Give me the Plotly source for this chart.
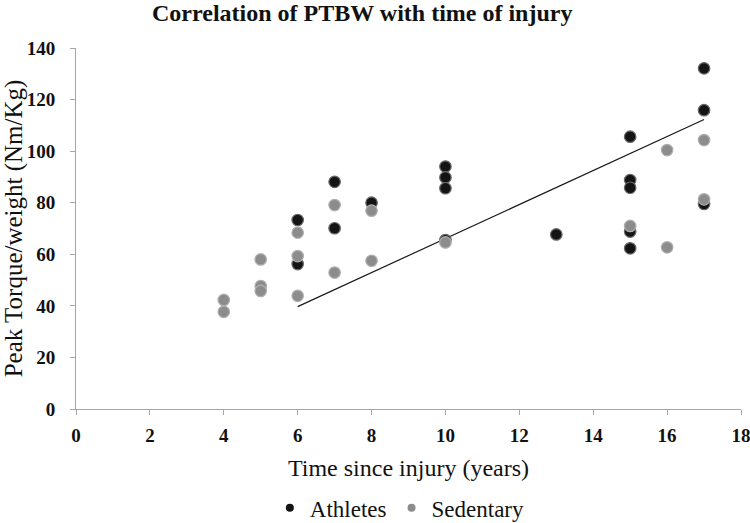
import plotly.graph_objects as go

ath_x = [6, 6, 7, 7, 8, 10, 10, 10, 10, 13, 15, 15, 15, 15, 15, 17, 17, 17]
ath_y = [73.3, 56.2, 88.1, 70.1, 80.0, 94.0, 89.8, 85.6, 65.5, 67.7, 105.6, 88.8, 85.8, 68.8, 62.3, 132.1, 115.9, 79.5]

sed_x = [4, 4, 5, 5, 5, 6, 6, 6, 7, 7, 8, 8, 10, 15, 16, 16, 17, 17]
sed_y = [42.3, 37.7, 58.0, 47.7, 45.8, 68.4, 59.3, 43.9, 79.1, 52.9, 76.9, 57.5, 64.6, 71.0, 100.4, 62.7, 104.3, 81.3]

trend_x = [6, 17]
trend_y = [39.7, 112.3]

x_ticks = [0, 2, 4, 6, 8, 10, 12, 14, 16, 18]
y_ticks = [0, 20, 40, 60, 80, 100, 120, 140]

FONT = "Liberation Serif"
ATH_COLOR = "#141414"
SED_COLOR = "#8c8c8c"

fig = go.Figure()
fig.add_trace(go.Scatter(x=trend_x, y=trend_y, mode="lines",
                         line=dict(color="#1a1a1a", width=1.2),
                         showlegend=False, hoverinfo="skip"))
fig.add_trace(go.Scatter(x=ath_x, y=ath_y, mode="markers", name="Athletes",
                         showlegend=False,
                         marker=dict(size=11.5, color=ATH_COLOR,
                                     line=dict(color="#6a6a6a", width=1.2))))
fig.add_trace(go.Scatter(x=sed_x, y=sed_y, mode="markers", name="Sedentary",
                         showlegend=False,
                         marker=dict(size=11.5, color=SED_COLOR,
                                     line=dict(color="#b0b0b0", width=1.2))))
# legend entries (small symbols like the reference)
fig.add_trace(go.Scatter(x=[None], y=[None], mode="markers", name="Athletes",
                         marker=dict(size=8, color=ATH_COLOR)))
fig.add_trace(go.Scatter(x=[None], y=[None], mode="markers", name="Sedentary",
                         marker=dict(size=8, color=SED_COLOR)))

fig.update_layout(
    width=750, height=523,
    margin=dict(l=76, r=9, t=48, b=114),
    paper_bgcolor="white", plot_bgcolor="white",
    font=dict(family=FONT, color="#1a1a1a"),
    title=dict(text="<b>Correlation of PTBW with time of injury</b>",
               x=0.483, xanchor="center", y=0.976, yanchor="middle",
               font=dict(size=24, family=FONT, color="#111")),
    xaxis=dict(range=[0, 18], tickvals=x_ticks, ticktext=[f"<b>{v}</b>" for v in x_ticks],
               showgrid=False, zeroline=False, showline=True, linecolor="#a6a6a6",
               linewidth=1, ticks="outside", ticklen=5, tickcolor="#a6a6a6",
               automargin=False, ticklabelstandoff=4, ticklabeloverflow="allow",
               tickfont=dict(size=19, family=FONT, color="#111"),
               title=dict(text="Time since injury (years)", standoff=14,
                          font=dict(size=24, family=FONT, color="#111"))),
    yaxis=dict(range=[0, 140], tickvals=y_ticks, ticktext=[f"<b>{v}</b>" for v in y_ticks],
               showgrid=False, zeroline=False, showline=True, linecolor="#a6a6a6",
               linewidth=1, ticks="outside", ticklen=5, tickcolor="#a6a6a6",
               automargin=False, ticklabelstandoff=11,
               tickfont=dict(size=19, family=FONT, color="#111"),
               title=dict(text="Peak Torque/weight (Nm/Kg)", standoff=10,
                          font=dict(size=25, family=FONT, color="#111"))),
    legend=dict(orientation="h", x=0.487, xanchor="center",
                yref="container", y=0.029, yanchor="middle",
                font=dict(size=23, family=FONT, color="#111"), itemsizing="trace",
                tracegroupgap=0),
)

fig.write_html("out.html", config={"displayModeBar": False},
               post_script="document.body.style.margin='0px';")
